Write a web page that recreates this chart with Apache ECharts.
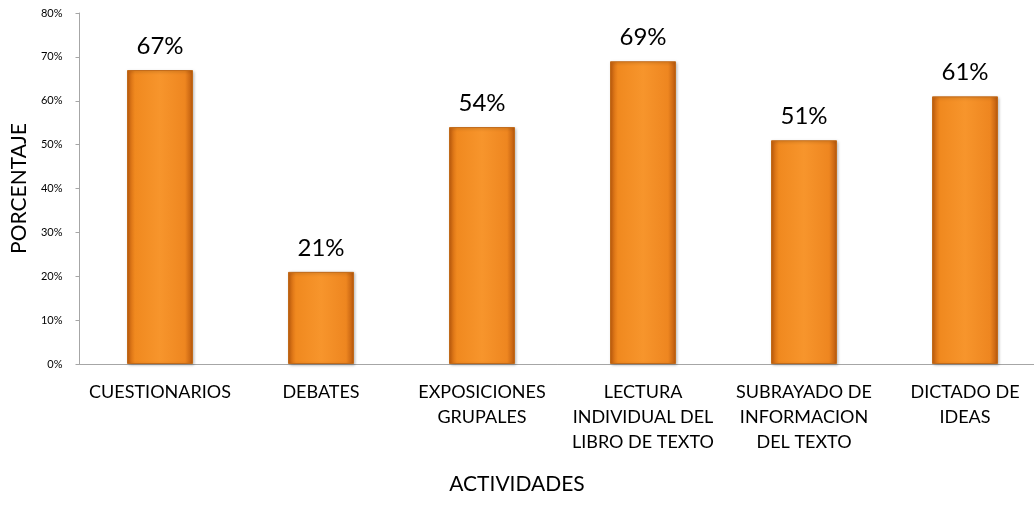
<!DOCTYPE html>
<html><head><meta charset="utf-8">
<script src="https://cdn.jsdelivr.net/npm/echarts@6/dist/echarts.min.js"></script>
<style>html,body{margin:0;padding:0;background:#fff}#c{width:1034px;height:520px}</style>
</head><body><div id="c"></div>
<script>
const categories = ["CUESTIONARIOS","DEBATES","EXPOSICIONES\nGRUPALES","LECTURA\nINDIVIDUAL DEL\nLIBRO DE TEXTO","SUBRAYADO DE\nINFORMACION\nDEL TEXTO","DICTADO DE\nIDEAS"];
const values = [67, 21, 54, 69, 51, 61];
const yTicks = [0,10,20,30,40,50,60,70,80];
const xTitle = 'ACTIVIDADES';
const yTitle = 'PORCENTAJE';
const font = "Lato, 'Open Sans', sans-serif";
const chart = echarts.init(document.getElementById('c'));
chart.setOption({
  animation:false,
  grid:{left:79.5,width:966,top:13,height:351,outerBoundsMode:'none',containLabel:false},
  graphic:[{type:'text',left:'center',top:474,
    style:{text:xTitle,fill:'#000',font:"21px Lato, 'Open Sans', sans-serif"}}],
  xAxis:{type:'category',data:categories,
    axisLine:{lineStyle:{color:'#a6a6a6'}},axisTick:{show:false},
    axisLabel:{color:'#000',fontSize:18,fontFamily:font,lineHeight:25,margin:16,interval:0}},
  yAxis:{type:'value',min:0,max:80,interval:10,
    axisLine:{show:true,lineStyle:{color:'#a6a6a6'}},
    axisTick:{show:true,length:4,lineStyle:{color:'#a6a6a6'}},
    splitLine:{show:false},
    axisLabel:{color:'#000',fontSize:11,fontFamily:font,margin:17,formatter:v=>v+'%'},
    name:yTitle,nameLocation:'middle',nameGap:49,
    nameTextStyle:{color:'#000',fontSize:21,fontFamily:font}},
  series:[{type:'bar',data:values,barWidth:66,
    itemStyle:{
      color:new echarts.graphic.LinearGradient(0,0,1,0,[
        {offset:0,color:'#c8600e'},{offset:0.12,color:'#f0891f'},
        {offset:0.5,color:'#f7952c'},{offset:0.88,color:'#ee8620'},{offset:1,color:'#b9580d'}]),
      borderColor:'#c06a1a',borderWidth:1,
      shadowColor:'rgba(0,0,0,0.25)',shadowBlur:3,shadowOffsetX:1,shadowOffsetY:1},
    label:{show:true,position:'top',distance:12,formatter:p=>p.value+'%',
      color:'#000',fontSize:24,fontFamily:font}}]
});
</script></body></html>
